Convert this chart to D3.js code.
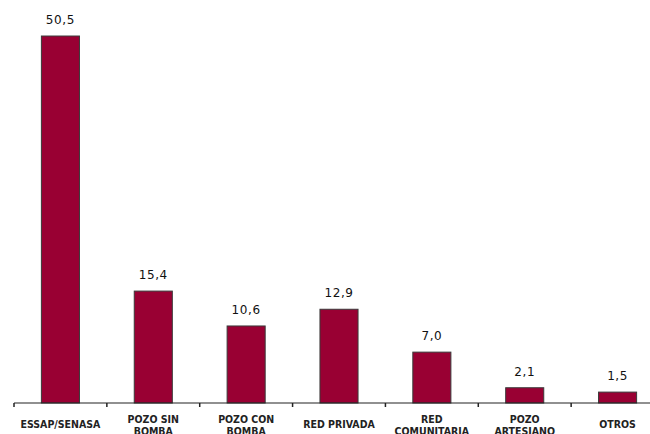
<!DOCTYPE html>
<html>
<head>
<meta charset="utf-8">
<script src="https://cdn.jsdelivr.net/npm/d3@7"></script>
<style>
  html, body { margin: 0; padding: 0; background: #fff; }
  svg { display: block; }
</style>
</head>
<body>
<svg id="chart" width="650" height="434"></svg>
<script>
const categories = ["ESSAP/SENASA", "POZO SIN\nBOMBA", "POZO CON\nBOMBA", "RED PRIVADA", "RED\nCOMUNITARIA", "POZO\nARTESIANO", "OTROS"];
const values = [50.5, 15.4, 10.6, 12.9, 7.0, 2.1, 1.5];
const valueLabels = ["50,5", "15,4", "10,6", "12,9", "7,0", "2,1", "1,5"];

const svg = d3.select("#chart");
const baseY = 403;
const x = d3.scaleBand().domain(categories).range([14, 664]).paddingInner(0.59).paddingOuter(0.295);
const y = d3.scaleLinear().domain([0, 55]).range([baseY, baseY - 55 * 7.267]);

// bars
svg.append("g").selectAll("rect").data(values).join("rect")
  .attr("x", (d, i) => x(categories[i]))
  .attr("y", d => y(d))
  .attr("width", x.bandwidth())
  .attr("height", d => y(0) - y(d))
  .attr("fill", "#990033")
  .attr("stroke", "#3a3a3a")
  .attr("stroke-width", 1);

// value labels
svg.append("g").selectAll("text").data(values).join("text")
  .attr("x", (d, i) => x(categories[i]) + x.bandwidth() / 2)
  .attr("y", d => y(d) - 12)
  .attr("text-anchor", "middle")
  .attr("font-family", "DejaVu Sans")
  .attr("font-size", 12)
  .attr("letter-spacing", 0.6)
  .attr("fill", "#111")
  .text((d, i) => valueLabels[i]);

// axis
const axis = d3.axisBottom(x).tickSize(0).tickFormat("");
const gAxis = svg.append("g").attr("transform", `translate(0,${baseY})`).call(axis);
gAxis.select(".domain").attr("stroke", "#222").attr("stroke-width", 1.2).attr("d", "M14,0H650");

// boundary ticks
const step = x.step();
const bounds = categories.map((c, i) => 14 + i * step).concat([14 + categories.length * step]);
gAxis.selectAll("line.bt").data(bounds).join("line")
  .attr("class", "bt")
  .attr("x1", d => d).attr("x2", d => d)
  .attr("y1", 0).attr("y2", 4)
  .attr("stroke", "#222").attr("stroke-width", 1.5);

// category labels
const lab = svg.append("g").selectAll("text").data(categories).join("text")
  .attr("text-anchor", "middle")
  .attr("font-family", "DejaVu Sans Condensed, DejaVu Sans")
  .attr("font-stretch", "condensed")
  .attr("font-weight", "bold")
  .attr("font-size", 10.5)
  .attr("fill", "#222");
lab.each(function(d) {
  const lines = d.split("\n");
  const cx = x(d) + x.bandwidth() / 2;
  const t = d3.select(this);
  const y0 = lines.length > 1 ? 423 : 428;
  lines.forEach((ln, j) => {
    t.append("tspan").attr("x", cx).attr("y", y0 + j * 12).text(ln);
  });
});
</script>
</body>
</html>
